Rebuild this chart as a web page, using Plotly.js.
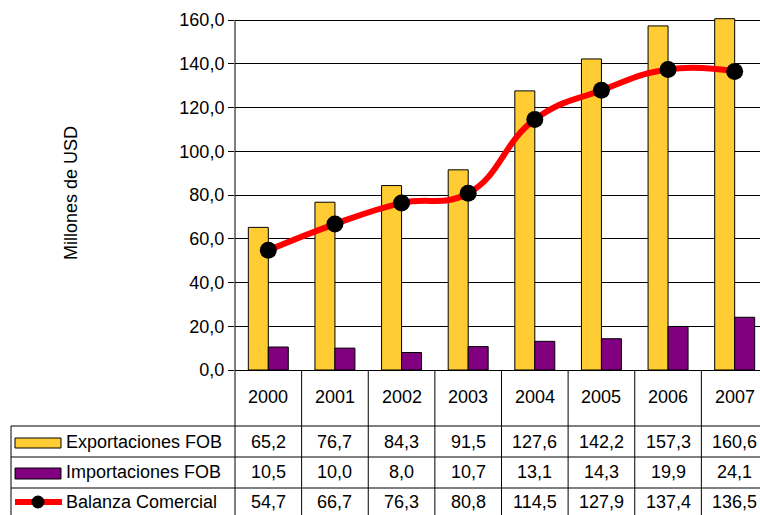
<!DOCTYPE html>
<html>
<head>
<meta charset="utf-8">
<script src="https://cdn.plot.ly/plotly-3.0.1.min.js"></script>
<style>
  html, body { margin: 0; padding: 0; background: #fff; }
  #chart { width: 760px; height: 515px; }
</style>
</head>
<body>
<div id="chart"></div>
<script>
const years = ['2000', '2001', '2002', '2003', '2004', '2005', '2006', '2007'];
const exportaciones = [65.2, 76.7, 84.3, 91.5, 127.6, 142.2, 157.3, 160.6];
const importaciones = [10.5, 10.0, 8.0, 10.7, 13.1, 14.3, 19.9, 24.1];
const balanza = [54.7, 66.7, 76.3, 80.8, 114.5, 127.9, 137.4, 136.5];
const seriesNames = ['Exportaciones FOB', 'Importaciones FOB', 'Balanza Comercial'];
const yTicks = [0, 20, 40, 60, 80, 100, 120, 140, 160];

const FONT = 'Liberation Sans, Arial, sans-serif';
const YELLOW = '#FFCC33';
const PURPLE = '#800080';
const RED = '#FF0000';

// pixel helpers (value 0 at y=370, 160 at y=20; plot x 235..760)
const L = 235, W = 525, B = 370, H = 350;
const TOP = 16;
const PLOT_H = B - TOP;
const px = v => (v - L) / W;
const py = v => (B - v) / PLOT_H;

const traces = [
  {
    type: 'bar', x: years, y: exportaciones, name: seriesNames[0],
    marker: { color: YELLOW, line: { color: '#000', width: 1 } },
    hoverinfo: 'skip', cliponaxis: false
  },
  {
    type: 'bar', x: years, y: importaciones, name: seriesNames[1],
    marker: { color: PURPLE, line: { color: '#000', width: 1 } },
    hoverinfo: 'skip'
  },
  {
    type: 'scatter', mode: 'lines+markers', x: years, y: balanza, name: seriesNames[2],
    line: { color: RED, width: 6, shape: 'spline', smoothing: 1.3 },
    marker: { color: '#000', size: 17 },
    hoverinfo: 'skip'
  }
];

const shapes = [];
const annotations = [];

// Table grid
const rowLines = [426, 457, 488];
rowLines.forEach(yy => shapes.push({
  type: 'line', xref: 'paper', yref: 'paper', x0: px(11), x1: 1, y0: py(yy), y1: py(yy),
  line: { color: '#000', width: 1 }
}));
shapes.push({ type: 'line', xref: 'paper', yref: 'paper', x0: px(11), x1: px(11), y0: py(426), y1: py(520), line: { color: '#000', width: 1 } });
shapes.push({ type: 'line', xref: 'paper', yref: 'paper', x0: 0, x1: 0, y0: 0, y1: py(520), line: { color: '#000', width: 1 } });
for (let i = 0; i < years.length - 1; i++) {
  shapes.push({ type: 'line', xref: 'x', yref: 'paper', x0: i + 0.5, x1: i + 0.5, y0: 0, y1: py(520), line: { color: '#000', width: 1 } });
}

// Table text
const rowY = [442, 472, 502];
const rowData = [exportaciones, importaciones, balanza];
years.forEach((yr, i) => {
  annotations.push({ xref: 'x', yref: 'paper', x: i, y: py(397), text: yr, showarrow: false,
    xanchor: 'center', yanchor: 'middle', font: { family: FONT, size: 18, color: '#000' } });
  rowData.forEach((arr, r) => {
    annotations.push({ xref: 'x', yref: 'paper', x: i, y: py(rowY[r]), text: arr[i].toFixed(1).replace('.', ','),
      showarrow: false, xanchor: 'center', yanchor: 'middle', font: { family: FONT, size: 18, color: '#000' } });
  });
});
seriesNames.forEach((nm, r) => {
  annotations.push({ xref: 'paper', yref: 'paper', x: px(64), y: py(rowY[r]), text: nm, showarrow: false,
    xanchor: 'left', yanchor: 'middle', font: { family: FONT, size: 18, color: '#000' } });
});

// Legend keys in table
shapes.push({ type: 'rect', xref: 'paper', yref: 'paper', x0: px(15), x1: px(61), y0: py(438), y1: py(448),
  fillcolor: YELLOW, line: { color: '#000', width: 1 } });
shapes.push({ type: 'rect', xref: 'paper', yref: 'paper', x0: px(15), x1: px(61), y0: py(468), y1: py(479),
  fillcolor: PURPLE, line: { color: '#000', width: 1 } });
shapes.push({ type: 'line', xref: 'paper', yref: 'paper', x0: px(15), x1: px(62), y0: py(502), y1: py(502),
  line: { color: RED, width: 6 } });
shapes.push({ type: 'circle', xref: 'paper', yref: 'paper', x0: px(31.5), x1: px(44.5), y0: py(495.5), y1: py(508.5),
  fillcolor: '#000', line: { color: '#000', width: 0 } });

const layout = {
  width: 760, height: 515,
  margin: { l: L, r: 0, t: TOP, b: 515 - B, pad: 0 },
  paper_bgcolor: '#fff', plot_bgcolor: '#fff',
  showlegend: false,
  separators: ',.',
  barmode: 'group', bargap: 0.4, bargroupgap: 0,
  font: { family: FONT, size: 18, color: '#000' },
  xaxis: {
    type: 'category', range: [-0.5, 7.38], showticklabels: false, ticks: '',
    showgrid: false, zeroline: false, showline: true, linecolor: '#000', linewidth: 1, fixedrange: true
  },
  yaxis: {
    range: [0, 160 * PLOT_H / H], tickvals: yTicks, tickformat: '.1f',
    ticks: 'outside', ticklen: 6, tickcolor: '#000', tickwidth: 1,
    showgrid: true, gridcolor: '#000', gridwidth: 1,
    showline: false, zeroline: false,
    tickfont: { family: FONT, size: 18, color: '#000' },
    title: { text: 'Millones de USD', font: { family: FONT, size: 18, color: '#000' }, standoff: 97 },
    fixedrange: true
  },
  shapes: shapes,
  annotations: annotations
};

// y-axis line from 0 to 160 only (reference axis does not extend above the top gridline)
shapes.push({ type: 'line', xref: 'paper', yref: 'y', x0: 0, x1: 0, y0: 0, y1: 160, line: { color: '#000', width: 1 } });

Plotly.newPlot('chart', traces, layout, { staticPlot: true, displayModeBar: false });
</script>
</body>
</html>
